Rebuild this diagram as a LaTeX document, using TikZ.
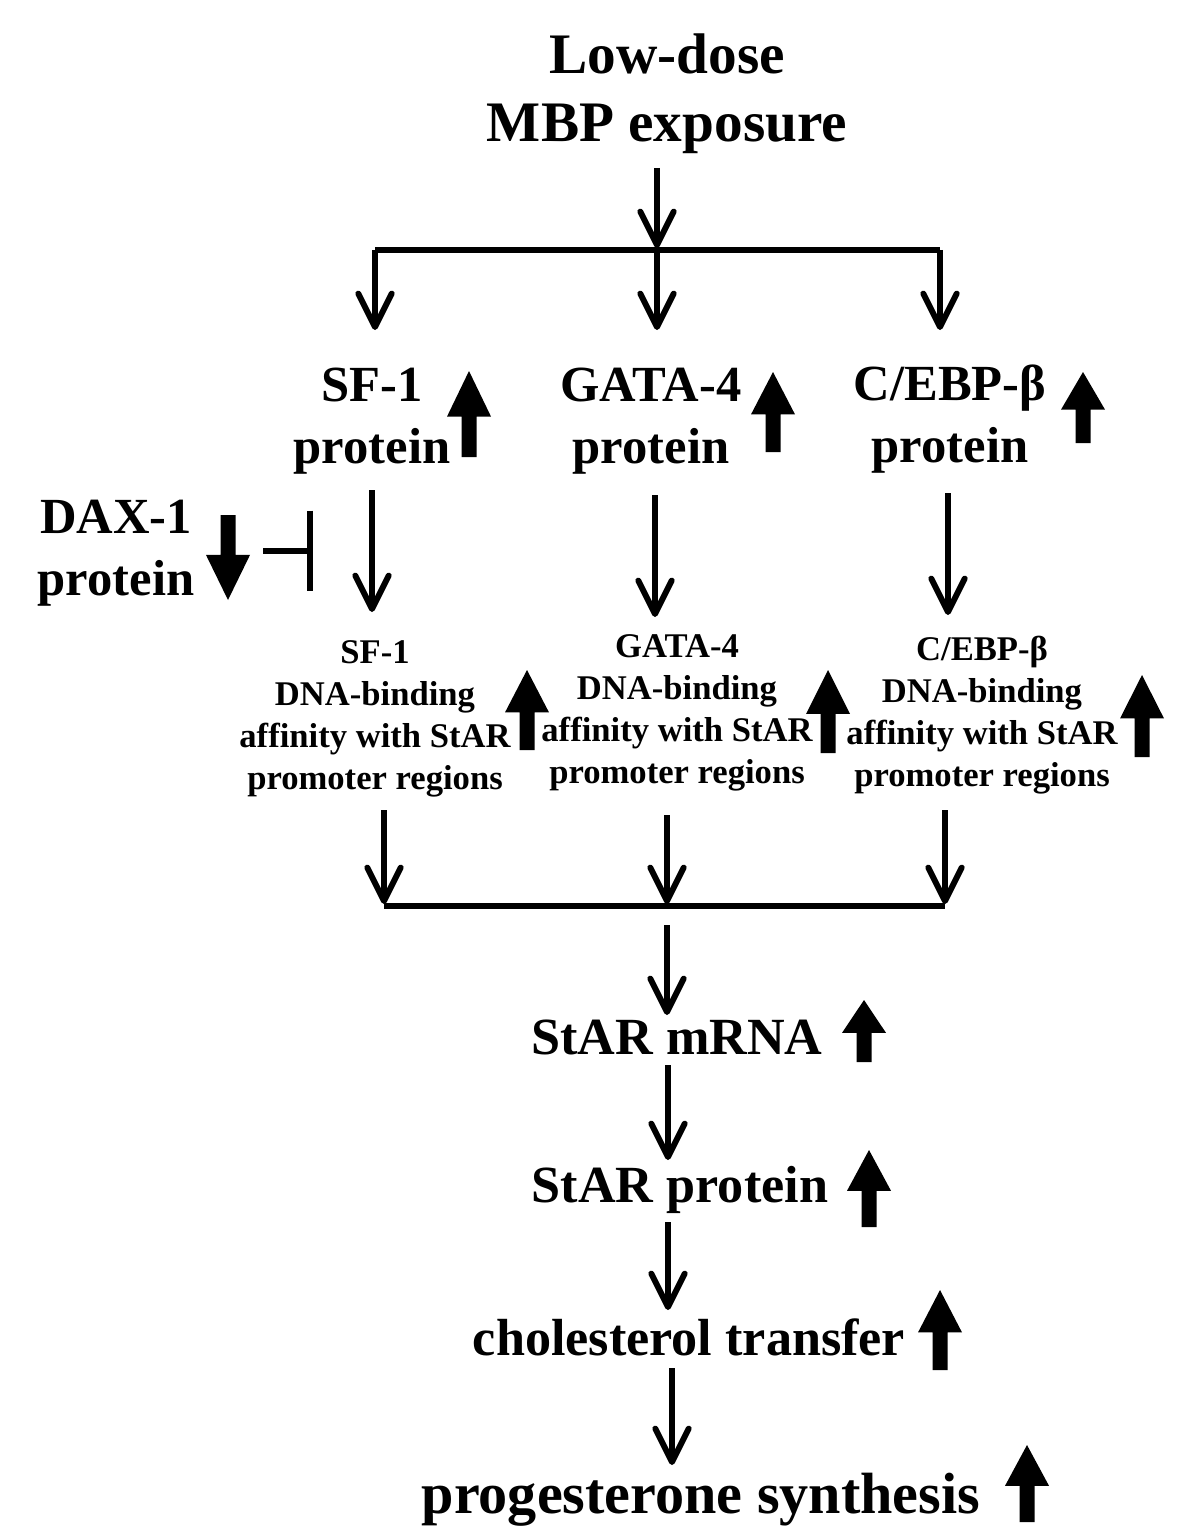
\documentclass[tikz,border=0pt]{standalone}
\usepackage{fontspec}
\setmainfont{Liberation Serif}
\usetikzlibrary{arrows.meta}
\tikzset{
  px/.style={x=0.02cm,y=-0.02cm},
  lbl/.style={font=\bfseries, align=center, inner sep=0pt},
  big/.style={lbl, font=\fontsize{32.6}{38.6}\selectfont\bfseries},
  mid/.style={lbl, font=\fontsize{28.8}{35}\selectfont\bfseries},
  low/.style={lbl, font=\fontsize{29.7}{35}\selectfont\bfseries},
  sml/.style={lbl, font=\fontsize{19.7}{23.8}\selectfont\bfseries},
  flow/.style={line width=3.4pt, -{Straight Barb[length=19pt,width=19pt,round]}},
  plain/.style={line width=3.8pt},
  blk/.style={fill=black},
}
\newcommand\blkup[3]{% x, tip, bottom
  \pgfmathsetmacro\hb{#2+0.53*(#3-#2)}
  \fill[blk] (#1-7.5,#3) -- (#1-7.5,\hb) -- (#1-22,\hb) -- (#1,#2) -- (#1+22,\hb) -- (#1+7.5,\hb) -- (#1+7.5,#3) -- cycle;}
\newcommand\blkdown[3]{% x, top, tip
  \pgfmathsetmacro\hb{#3-0.53*(#3-#2)}
  \fill[blk] (#1-7.5,#2) -- (#1-7.5,\hb) -- (#1-22,\hb) -- (#1,#3) -- (#1+22,\hb) -- (#1+7.5,\hb) -- (#1+7.5,#2) -- cycle;}
\begin{document}
\begin{tikzpicture}[px]
\useasboundingbox (0,0) rectangle (1200,1537);
\fill[white] (0,0) rectangle (1200,1537);

% texts
\node[big] (title) at (667,94) {Low-dose\\MBP exposure};
\node[mid] (sf1) at (372,421) {SF-1\\protein};
\node[mid] (gata) at (651,421) {GATA-4\\protein};
\node[mid] (cebp) at (950,419) {C/EBP-β\\protein};
\node[mid] (dax) at (116,553) {DAX-1\\protein};
\node[sml] (sf1d) at (375,719) {SF-1\\DNA-binding\\affinity with StAR\\promoter regions};
\node[sml] (gatad) at (677,713) {GATA-4\\DNA-binding\\affinity with StAR\\promoter regions};
\node[sml] (cebpd) at (982,715) {C/EBP-β\\DNA-binding\\affinity with StAR\\promoter regions};
\node[low] (mrna) at (677,1037) {StAR mRNA};
\node[low] (starp) at (680,1190) {StAR protein};
\node[low] (chol) at (689,1337) {cholesterol transfer};
\node[big, font=\fontsize{33.1}{38.6}\selectfont\bfseries] (prog) at (701,1500) {progesterone synthesis};

% coordinates
\coordinate (t0) at (657,168);
\coordinate (t1) at (657,248);
\coordinate (bl) at (375,250);
\coordinate (bm) at (657,250);
\coordinate (br) at (940,250);
\coordinate (a1) at (375,330);
\coordinate (a2) at (657,330);
\coordinate (a3) at (940,330);
\coordinate (s1) at (372,490);
\coordinate (s2) at (372,612);
\coordinate (g1) at (655,495);
\coordinate (g2) at (655,617);
\coordinate (c1) at (948,493);
\coordinate (c2) at (948,615);
\coordinate (d1) at (384,810);
\coordinate (d2) at (384,904);
\coordinate (e1) at (667,815);
\coordinate (e2) at (667,904);
\coordinate (f1) at (945,810);
\coordinate (f2) at (945,904);
\coordinate (jl) at (384,906);
\coordinate (jr) at (945,906);
\coordinate (m0) at (667,925);
\coordinate (m1) at (667,1015);
\coordinate (p0) at (668,1065);
\coordinate (p1) at (668,1160);
\coordinate (q0) at (668,1222);
\coordinate (q1) at (668,1310);
\coordinate (r0) at (672,1368);
\coordinate (r1) at (672,1465);
\coordinate (inh0) at (263,551);
\coordinate (inh1) at (313,551);

% connectors
\draw[flow] (t0) -- (t1);
\draw[plain] (bl) -- (br);
\draw[flow] (bl) -- (a1);
\draw[flow] (bm) -- (a2);
\draw[flow] (br) -- (a3);
\draw[flow] (s1) -- (s2);
\draw[flow] (g1) -- (g2);
\draw[flow] (c1) -- (c2);
\draw[flow] (d1) -- (d2);
\draw[flow] (e1) -- (e2);
\draw[flow] (f1) -- (f2);
\draw[plain] (jl) -- (jr);
\draw[flow] (m0) -- (m1);
\draw[flow] (p0) -- (p1);
\draw[flow] (q0) -- (q1);
\draw[flow] (r0) -- (r1);
\draw[line width=3.6pt, -{Bar[width=46pt]}] (inh0) -- (inh1);

% block arrows
\blkup{469}{371}{457}
\blkup{773}{372}{452}
\blkup{1083}{372}{443}
\blkup{527}{670}{750}
\blkup{828}{670}{753}
\blkup{1142}{675}{757}
\blkup{864}{1000}{1062}
\blkup{869}{1150}{1227}
\blkup{940}{1290}{1370}
\blkup{1027}{1445}{1522}
\blkdown{228}{515}{600}
\end{tikzpicture}
\end{document}
